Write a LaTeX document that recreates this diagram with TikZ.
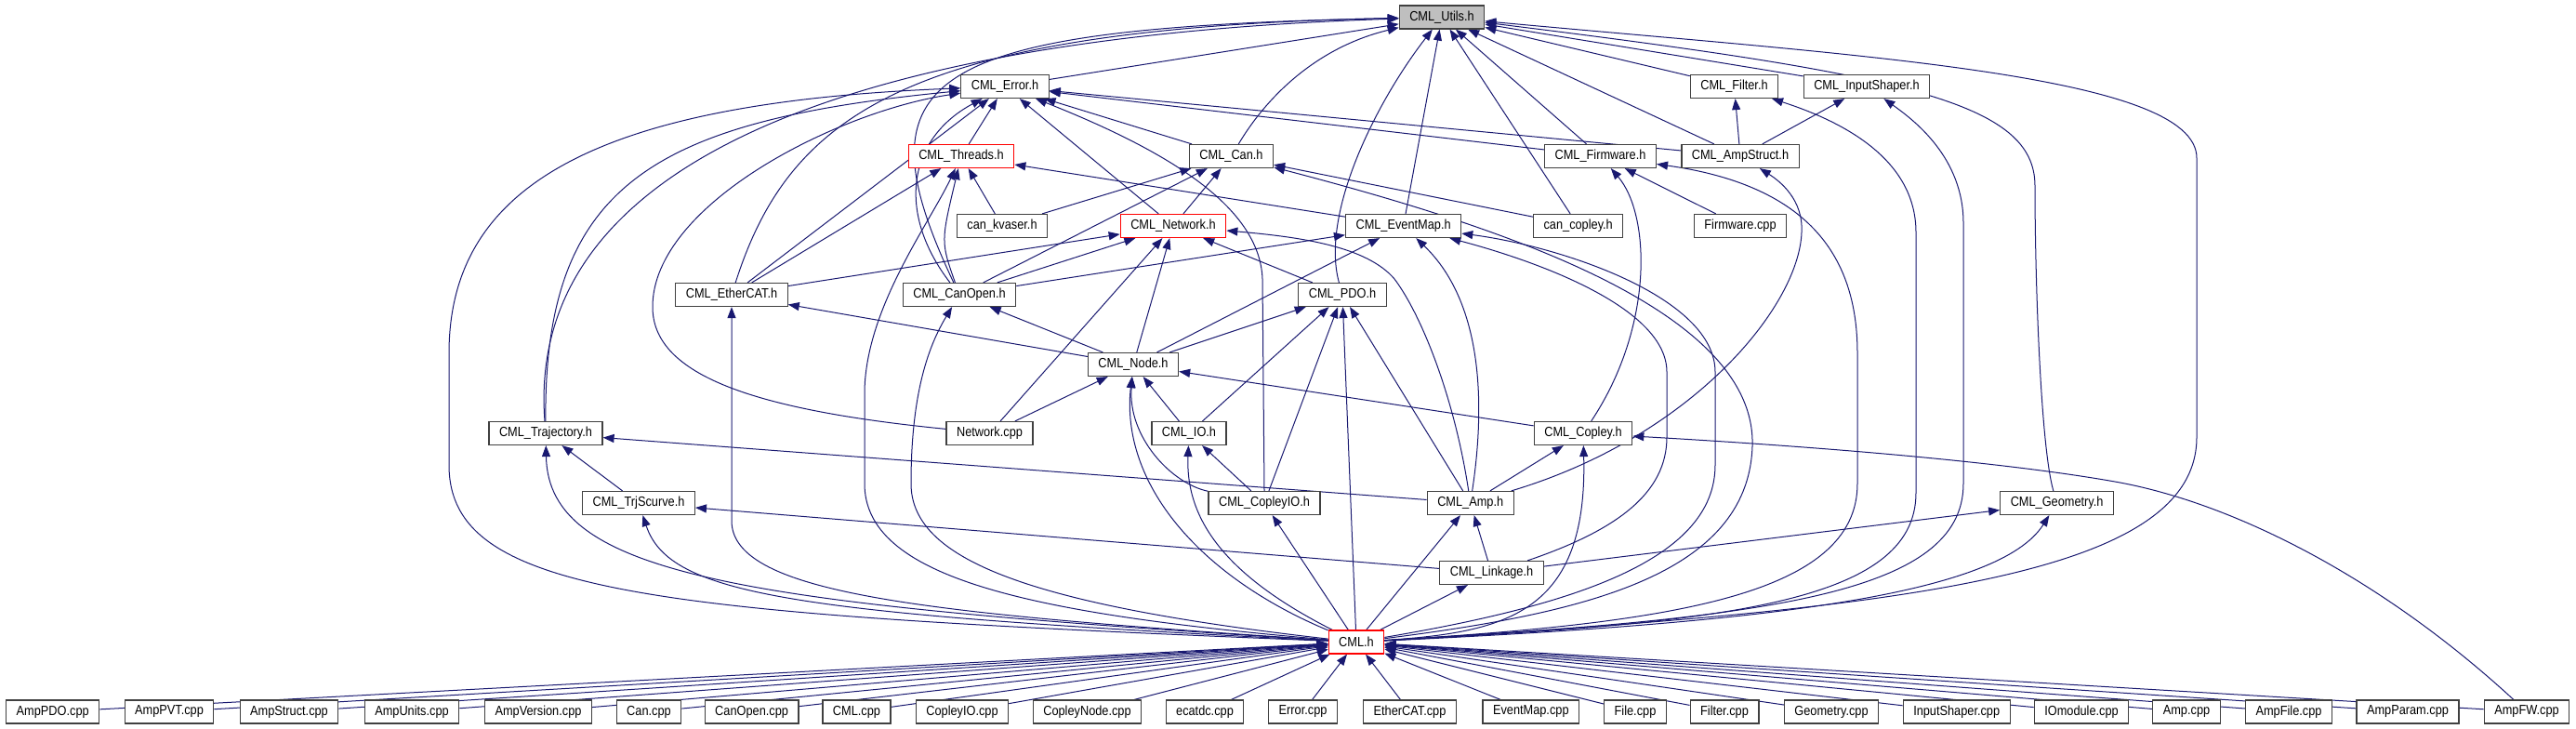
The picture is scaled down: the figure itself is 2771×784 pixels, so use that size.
\documentclass[tikz,border=0pt]{standalone}
\usepackage{fontspec}
\setmainfont{Liberation Sans}[FakeStretch=0.88]
\usetikzlibrary{arrows.meta,backgrounds}
\definecolor{incblue}{HTML}{191970}
\definecolor{rootgray}{HTML}{BFBFBF}

\begin{document}
\begin{tikzpicture}[
    x=1pt, y=-1pt,
    font=\fontsize{14.5}{17}\selectfont,
    file/.style={
      draw=black!75, line width=1.2pt, fill=white,
      minimum height=25pt, inner xsep=11pt, inner ysep=0pt
    },
    hot/.style={file, draw=red},
    inc/.style={draw=incblue, line width=1pt, -{Triangle[length=12pt,width=9pt]}}
  ]
    \useasboundingbox (0,0) rectangle (2771,784);

    % headers
    \node[file, fill=rootgray] (utils) at (1551,18.5) {CML\_Utils.h};
    \node[file] (error) at (1081,93) {CML\_Error.h};
    \node[file] (filter) at (1865.5,93) {CML\_Filter.h};
    \node[file] (shaper) at (2008,93) {CML\_InputShaper.h};
    \node[hot] (threads) at (1034,168) {CML\_Threads.h};
    \node[file] (can) at (1324.5,168) {CML\_Can.h};
    \node[file] (firmware) at (1721.5,168) {CML\_Firmware.h};
    \node[file] (ampstruct) at (1872,168) {CML\_AmpStruct.h};
    \node[file] (kvaser) at (1078,243) {can\_kvaser.h};
    \node[hot] (network) at (1262,243) {CML\_Network.h};
    \node[file] (eventmap) at (1509.6,243) {CML\_EventMap.h};
    \node[file] (cancopley) at (1697.7,243) {can\_copley.h};
    \node[file] (fwcpp) at (1872,243) {Firmware.cpp};
    \node[file] (ethercat) at (787,317) {CML\_EtherCAT.h};
    \node[file] (canopen) at (1032,317) {CML\_CanOpen.h};
    \node[file] (pdo) at (1444,317) {CML\_PDO.h};
    \node[file] (node) at (1219,392) {CML\_Node.h};
    \node[file] (traj) at (587,466) {CML\_Trajectory.h};
    \node[file] (netcpp) at (1064.5,466) {Network.cpp};
    \node[file] (io) at (1279,466) {CML\_IO.h};
    \node[file] (copley) at (1703,466) {CML\_Copley.h};
    \node[file] (scurve) at (687,541) {CML\_TrjScurve.h};
    \node[file] (copleyio) at (1360,541) {CML\_CopleyIO.h};
    \node[file] (amp) at (1581.7,541) {CML\_Amp.h};
    \node[file] (geometry) at (2212.6,541) {CML\_Geometry.h};
    \node[file] (linkage) at (1604.5,616) {CML\_Linkage.h};
    \node[hot] (cml) at (1459,690.5) {CML.h};

    % sources
    \node[file] (amppdo) at (56.7,765.5) {AmpPDO.cpp};
    \node[file] (amppvt) at (182,765.5) {AmpPVT.cpp};
    \node[file] (ampstructc) at (311,765.5) {AmpStruct.cpp};
    \node[file] (ampunits) at (443,765.5) {AmpUnits.cpp};
    \node[file] (ampversion) at (579,765.5) {AmpVersion.cpp};
    \node[file] (canc) at (698,765.5) {Can.cpp};
    \node[file] (canopenc) at (808.6,765.5) {CanOpen.cpp};
    \node[file] (cmlc) at (921.5,765.5) {CML.cpp};
    \node[file] (copleyioc) at (1035,765.5) {CopleyIO.cpp};
    \node[file] (copleynode) at (1169.5,765.5) {CopleyNode.cpp};
    \node[file] (ecatdc) at (1296,765.5) {ecatdc.cpp};
    \node[file] (errorc) at (1401.6,765.5) {Error.cpp};
    \node[file] (ethercatc) at (1516.5,765.5) {EtherCAT.cpp};
    \node[file] (eventmapc) at (1646.8,765.5) {EventMap.cpp};
    \node[file] (filec) at (1759,765.5) {File.cpp};
    \node[file] (filterc) at (1855,765.5) {Filter.cpp};
    \node[file] (geometryc) at (1970,765.5) {Geometry.cpp};
    \node[file] (shaperc) at (2104.7,765.5) {InputShaper.cpp};
    \node[file] (iomodule) at (2239,765.5) {IOmodule.cpp};
    \node[file] (ampc) at (2352,765.5) {Amp.cpp};
    \node[file] (ampfile) at (2462,765.5) {AmpFile.cpp};
    \node[file] (ampparam) at (2590,765.5) {AmpParam.cpp};
    \node[file] (ampfw) at (2718,765.5) {AmpFW.cpp};

    \begin{scope}[on background layer]
    % into CML_Utils.h
    \draw[inc] (error) -- (utils);
    \draw[inc] (can) .. controls (1365,100) and (1420,50) .. (utils);
    \draw[inc] (eventmap) -- (utils);
    \draw[inc] (pdo) .. controls (1420,230) and (1480,110) .. (utils);
    \draw[inc] (cancopley) -- (utils);
    \draw[inc] (firmware) -- (utils);
    \draw[inc] (ampstruct) -- (utils);
    \draw[inc] (filter) -- (utils);
    \draw[inc] (shaper) -- (utils);
    \draw[inc] (geometry) .. controls (2195,480) and (2189,300) .. (2189,200)
      .. controls (2189,110) and (2050,80) .. (utils);
    \draw[inc] (cml) .. controls (2050,655) and (2363,620) .. (2363,470) -- (2363,170)
      .. controls (2363,80) and (2000,60) .. (utils);
    \draw[inc] (traj) .. controls (565,180) and (900,40) .. (utils);
    \draw[inc] (ethercat) .. controls (850,120) and (980,30) .. (utils);
    \draw[inc] (canopen) .. controls (920,80) and (990,30) .. (utils);

    % into CML_Error.h
    \draw[inc] (cml) .. controls (700,660) and (483,640) .. (483,500) -- (483,380)
      .. controls (483,200) and (640,110) .. (error);
    \draw[inc] (traj) .. controls (585,200) and (700,130) .. (error);
    \draw[inc] (netcpp) .. controls (800,440) and (702,400) .. (702,330)
      .. controls (702,220) and (900,120) .. (error);
    \draw[inc] (ethercat) -- (error);
    \draw[inc] (canopen) .. controls (965,230) and (975,150) .. (error);
    \draw[inc] (threads) -- (error);
    \draw[inc] (network) -- (error);
    \draw[inc] (copleyio.north) -- (1358,300) .. controls (1355,220) and (1250,160) .. (error);
    \draw[inc] (can) -- (error);
    \draw[inc] (firmware) -- (error);
    \draw[inc] (ampstruct) -- (error);

    % into CML_Threads.h
    \draw[inc] (ethercat) -- (threads);
    \draw[inc] (canopen) .. controls (1012,260) .. (threads);
    \draw[inc] (kvaser) -- (threads);
    \draw[inc] (eventmap) -- (threads);
    \draw[inc] (cml) .. controls (1100,660) and (930,620) .. (930,520) -- (930,420)
      .. controls (932,330) and (1000,240) .. (threads);

    % into CML_Can.h
    \draw[inc] (kvaser) -- (can);
    \draw[inc] (network) -- (can);
    \draw[inc] (canopen) -- (can);
    \draw[inc] (cancopley) -- (can);
    \draw[inc] (cml) .. controls (1700,660) and (1880,620) .. (1885,480)
      .. controls (1890,330) and (1600,240) .. (can);

    % into CML_Network.h
    \draw[inc] (ethercat) -- (network);
    \draw[inc] (canopen) -- (network);
    \draw[inc] (netcpp) -- (network);
    \draw[inc] (node) -- (network);
    \draw[inc] (pdo) -- (network);
    \draw[inc] (amp) .. controls (1565,430) and (1530,340) .. (1500,300)
      .. controls (1470,265) and (1400,255) .. (network);

    % into CML_EventMap.h
    \draw[inc] (canopen) -- (eventmap);
    \draw[inc] (node) -- (eventmap);
    \draw[inc] (amp) .. controls (1600,420) and (1590,320) .. (eventmap);
    \draw[inc] (linkage) .. controls (1740,570) and (1793,530) .. (1793,470) -- (1793,400)
      .. controls (1793,330) and (1650,280) .. (eventmap);
    \draw[inc] (cml) .. controls (1700,650) and (1845,600) .. (1845,500) -- (1845,400)
      .. controls (1845,320) and (1680,265) .. (eventmap);

    % into CML_PDO.h
    \draw[inc] (node) -- (pdo);
    \draw[inc] (io) -- (pdo);
    \draw[inc] (copleyio) -- (pdo);
    \draw[inc] (cml) -- (pdo);
    \draw[inc] (amp) -- (pdo);

    % into CML_Node.h
    \draw[inc] (netcpp) -- (node);
    \draw[inc] (io) -- (node);
    \draw[inc] (copleyio) .. controls (1260,520) and (1213,470) .. (node);
    \draw[inc] (cml) .. controls (1290,620) and (1205,520) .. (node);
    \draw[inc] (copley) -- (node);

    % CML_Node.h, CML_CanOpen.h, CML_EtherCAT.h
    \draw[inc] (node) -- (canopen);
    \draw[inc] (node) -- (ethercat);
    \draw[inc] (cml) .. controls (1100,650) and (980,600) .. (980,520)
      .. controls (980,420) and (1000,370) .. (canopen);
    \draw[inc] (cml) .. controls (1000,660) and (787,640) .. (787,560) -- (ethercat);

    % trajectories
    \draw[inc] (cml) .. controls (800,650) and (590,620) .. (traj);
    \draw[inc] (scurve) -- (traj);
    \draw[inc] (amp) -- (traj);
    \draw[inc] (cml) .. controls (850,660) and (720,640) .. (scurve);
    \draw[inc] (linkage) -- (scurve);

    % io
    \draw[inc] (copleyio) -- (io);
    \draw[inc] (cml) .. controls (1320,620) and (1275,560) .. (io);
    \draw[inc] (cml) -- (copleyio);

    % copley, amp
    \draw[inc] (amp) -- (copley);
    \draw[inc] (cml) .. controls (1620,680) and (1708,660) .. (copley);
    \draw[inc] (ampfw) .. controls (2560,620) and (2400,540) .. (2275,518)
      .. controls (2150,496) and (1950,480) .. (copley);
    \draw[inc] (linkage) -- (amp);
    \draw[inc] (cml) -- (amp);
    \draw[inc] (cml) -- (linkage);
    \draw[inc] (amp) .. controls (1820,470) and (1935,330) .. (1938,250)
      .. controls (1940,215) and (1915,195) .. (ampstruct);

    % firmware, filters
    \draw[inc] (copley) .. controls (1780,350) and (1775,230) .. (firmware);
    \draw[inc] (fwcpp) -- (firmware);
    \draw[inc] (cml) .. controls (1800,670) and (1998,640) .. (1998,520) -- (1998,380)
      .. controls (1998,280) and (1950,200) .. (firmware);
    \draw[inc] (ampstruct) -- (filter);
    \draw[inc] (ampstruct) -- (shaper);
    \draw[inc] (cml) .. controls (1850,670) and (2061,650) .. (2061,530) -- (2061,250)
      .. controls (2061,170) and (1980,130) .. (filter);
    \draw[inc] (cml) .. controls (1900,665) and (2112,640) .. (2112,520) -- (2112,240)
      .. controls (2112,170) and (2060,130) .. (shaper);
    \draw[inc] (cml) .. controls (1900,670) and (2150,640) .. (geometry);
    \draw[inc] (linkage) -- (geometry);

    % sources into CML.h
    \draw[inc] (amppdo) -- (cml);
    \draw[inc] (amppvt) -- (cml);
    \draw[inc] (ampstructc) -- (cml);
    \draw[inc] (ampunits) -- (cml);
    \draw[inc] (ampversion) -- (cml);
    \draw[inc] (canc) -- (cml);
    \draw[inc] (canopenc) -- (cml);
    \draw[inc] (cmlc) -- (cml);
    \draw[inc] (copleyioc) -- (cml);
    \draw[inc] (copleynode) -- (cml);
    \draw[inc] (ecatdc) -- (cml);
    \draw[inc] (errorc) -- (cml);
    \draw[inc] (ethercatc) -- (cml);
    \draw[inc] (eventmapc) -- (cml);
    \draw[inc] (filec) -- (cml);
    \draw[inc] (filterc) -- (cml);
    \draw[inc] (geometryc) -- (cml);
    \draw[inc] (shaperc) -- (cml);
    \draw[inc] (iomodule) -- (cml);
    \draw[inc] (ampc) -- (cml);
    \draw[inc] (ampfile) -- (cml);
    \draw[inc] (ampparam) -- (cml);
    \draw[inc] (ampfw) -- (cml);
    \end{scope}
  \end{tikzpicture}
\end{document}
